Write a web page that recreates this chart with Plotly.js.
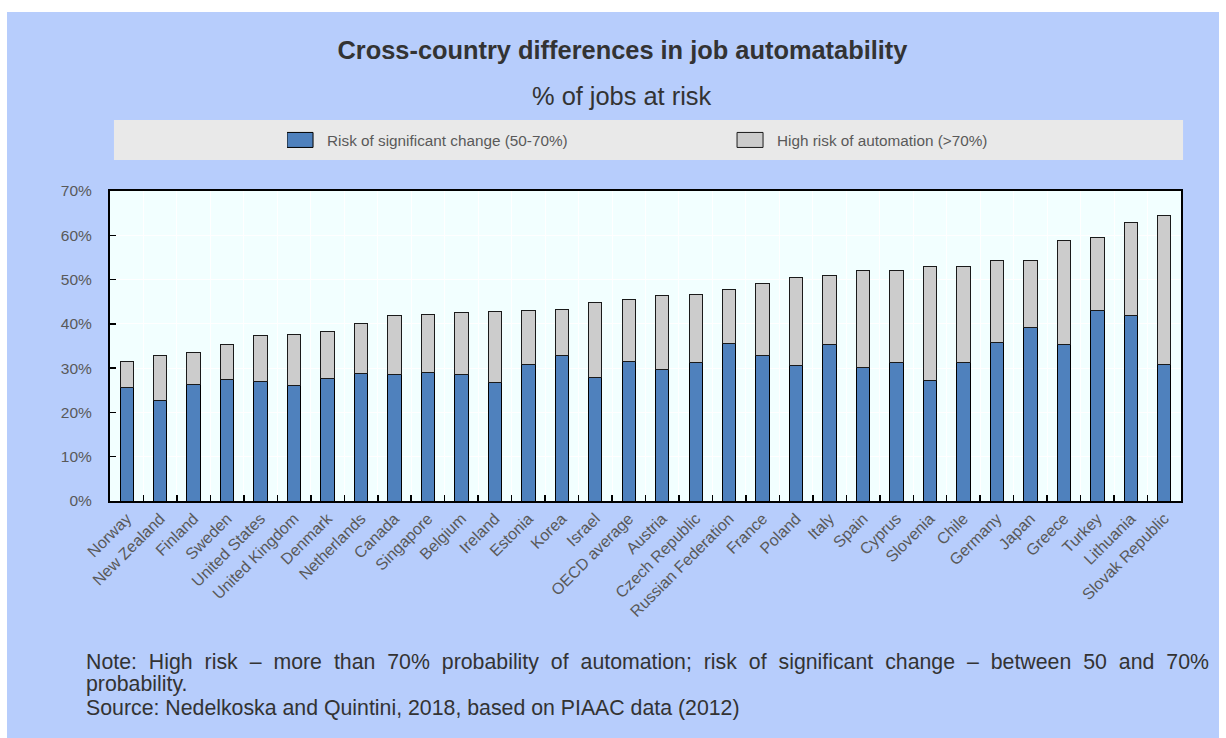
<!DOCTYPE html>
<html>
<head>
<meta charset="utf-8">
<script src="https://cdn.plot.ly/plotly-3.0.1.min.js"></script>
<style>
  html, body { margin: 0; padding: 0; background: #ffffff; width: 1226px; height: 738px; overflow: hidden; }
  #panel { position: absolute; left: 7px; top: 12px; width: 1212px; height: 726px; background: #b7cdfc; }
  #chart { position: absolute; left: 0; top: 0; width: 1212px; height: 726px; }
</style>
</head>
<body>
<div id="panel"><div id="chart"></div></div>
<script>
const countries = ["Norway", "New Zealand", "Finland", "Sweden", "United States", "United Kingdom", "Denmark",
  "Netherlands", "Canada", "Singapore", "Belgium", "Ireland", "Estonia", "Korea", "Israel", "OECD average",
  "Austria", "Czech Republic", "Russian Federation", "France", "Poland", "Italy", "Spain", "Cyprus",
  "Slovenia", "Chile", "Germany", "Japan", "Greece", "Turkey", "Lithuania", "Slovak Republic"];

// Risk of significant change (50-70%), % of jobs
const significantChange = [25.7, 22.8, 26.3, 27.5, 26.9, 26.0, 27.6, 28.7, 28.5, 29.0, 28.5, 26.8, 30.9, 32.8,
  27.9, 31.5, 29.6, 31.2, 35.5, 32.8, 30.5, 35.4, 30.2, 31.2, 27.3, 31.3, 35.8, 39.2, 35.3, 43.0, 42.0, 30.9];

// High risk of automation (>70%), % of jobs
const highRisk = [5.7, 10.0, 7.3, 7.9, 10.4, 11.6, 10.7, 11.4, 13.5, 13.1, 14.1, 16.0, 12.1, 10.4,
  16.9, 14.0, 16.7, 15.5, 12.2, 16.4, 19.9, 15.5, 21.8, 20.9, 25.6, 21.6, 18.4, 15.0, 23.5, 16.5, 21.0, 33.6];

const yTickVals = [0, 10, 20, 30, 40, 50, 60, 70];
const yTickText = ["0%", "10%", "20%", "30%", "40%", "50%", "60%", "70%"];

const regular = "Liberation Sans, Arial, sans-serif";

const traces = [
  {
    type: "bar", x: countries, y: significantChange,
    name: "Risk of significant change (50-70%)",
    marker: { color: "#4f81bd", line: { color: "#000000", width: 1 } }
  },
  {
    type: "bar", x: countries, y: highRisk,
    name: "High risk of automation (>70%)",
    marker: { color: "#cccccc", line: { color: "#1a1a1a", width: 1 } }
  }
];

const layout = {
  width: 1212, height: 726,
  margin: { l: 103, r: 38, t: 179, b: 237 },
  paper_bgcolor: "rgba(0,0,0,0)",
  plot_bgcolor: "#f2ffff",
  barmode: "stack",
  bargap: 0.6,
  hovermode: false,
  showlegend: true,
  title: {
    text: "<b>Cross-country differences in job automatability</b>",
    font: { family: regular, size: 25.4, color: "#333333" },
    xref: "container", x: 0.5078, xanchor: "center",
    yref: "container", y: 0.9477, yanchor: "middle"
  },
  xaxis: {
    type: "category",
    tickson: "boundaries",
    ticks: "inside", ticklen: 6, tickwidth: 1.5, tickcolor: "#000000",
    tickangle: -45,
    tickfont: { family: regular, size: 16, color: "#595959" },
    showgrid: true, gridcolor: "#ffffff", gridwidth: 1,
    showline: true, linecolor: "#000000", linewidth: 2, mirror: true,
    fixedrange: true
  },
  yaxis: {
    range: [0, 70],
    tickvals: yTickVals, ticktext: yTickText,
    ticks: "inside", ticklen: 6, tickwidth: 1.5, tickcolor: "#000000",
    tickfont: { family: regular, size: 15.5, color: "#595959" },
    ticklabelstandoff: 13,
    showgrid: true, gridcolor: "#ffffff", gridwidth: 1,
    zeroline: false,
    showline: true, linecolor: "#000000", linewidth: 2, mirror: true,
    fixedrange: true
  },
  legend: {
    orientation: "h", x: 0.1653, xanchor: "left", y: 1.1645, yanchor: "middle",
    traceorder: "normal",
    entrywidth: 405, entrywidthmode: "pixels",
    bgcolor: "rgba(0,0,0,0)", font: { family: regular, size: 15.3, color: "#595959" }
  },
  shapes: [
    { type: "rect", xref: "paper", yref: "paper", x0: 0.0037, x1: 1.0019, y0: 1.1, y1: 1.229,
      fillcolor: "#e9e9e9", line: { width: 0 }, layer: "below" }
  ],
  annotations: [
    { text: "% of jobs at risk", xref: "paper", yref: "paper", x: 0.4785, y: 1.3065,
      xanchor: "center", yanchor: "middle", showarrow: false,
      font: { family: regular, size: 25.4, color: "#333333" } },
    { text: "Note: High risk – more than 70% probability of automation; risk of significant change – between 50 and 70%",
      xref: "paper", yref: "paper", x: -0.0243, y: -0.519, xanchor: "left", yanchor: "middle", showarrow: false,
      font: { family: regular, size: 21.3, color: "#333333" } },
    { text: "probability.",
      xref: "paper", yref: "paper", x: -0.0243, y: -0.590, xanchor: "left", yanchor: "middle", showarrow: false,
      font: { family: regular, size: 21.3, color: "#333333" } },
    { text: "Source: Nedelkoska and Quintini, 2018, based on PIAAC data (2012)",
      xref: "paper", yref: "paper", x: -0.0243, y: -0.668, xanchor: "left", yanchor: "middle", showarrow: false,
      font: { family: regular, size: 21.3, color: "#333333" } }
  ]
};

Plotly.newPlot("chart", traces, layout, { staticPlot: true, displayModeBar: false }).then(function (gd) {
  // Wider legend swatches like the original
  gd.querySelectorAll(".legendpoints path").forEach(function (p) {
    p.setAttribute("d", "M6,7.5H-20V-7.5H6Z");
  });
  // Justify the first note line (keep its left edge fixed)
  gd.querySelectorAll(".annotation-text").forEach(function (t) {
    if (t.textContent.indexOf("Note:") === 0) {
      const len = t.getComputedTextLength();
      const spaces = (t.textContent.match(/ /g) || []).length;
      const target = 1123;
      if (len < target && spaces > 0) {
        t.style.wordSpacing = ((target - len) / spaces).toFixed(2) + "px";
        const len2 = t.getComputedTextLength();
        const dx = (len2 - len) / 2;
        t.setAttribute("transform", "translate(" + dx.toFixed(2) + ",0)");
      }
    }
  });
});
</script>
</body>
</html>
